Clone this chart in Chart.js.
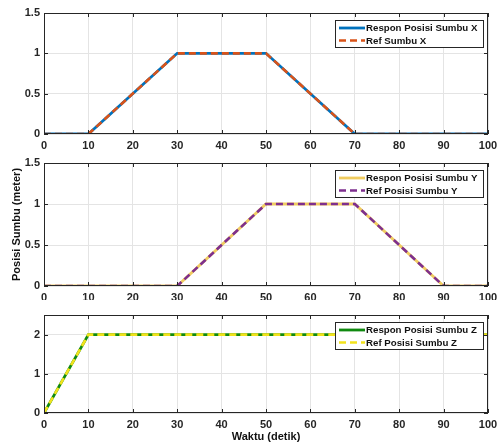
<!DOCTYPE html>
<html>
<head>
<meta charset="utf-8">
<script src="https://cdn.jsdelivr.net/npm/chart.js@4"></script>
<style>
    body { margin: 0; background: #fff; }
    .panel { position: absolute; left: 0; width: 498px; }
</style>
</head>
<body>
<div class="panel" style="top:0"><canvas id="chartX" width="498" height="150"></canvas></div>
<div class="panel" style="top:150px"><canvas id="chartY" width="498" height="150"></canvas></div>
<div class="panel" style="top:300px"><canvas id="chartZ" width="498" height="148"></canvas></div>
<script>
// data
const timeX = [0, 10, 30, 50, 70, 100];
const responX = [0, 0, 1, 1, 0, 0];
const refX = [0, 0, 1, 1, 0, 0];

const timeY = [0, 30, 50, 70, 90, 100];
const responY = [0, 0, 1, 1, 0, 0];
const refY = [0, 0, 1, 1, 0, 0];

const timeZ = [0, 10, 100];
const responZ = [0, 2, 2];
const refZ = [0, 2, 2];

const labelsX = ['Respon Posisi Sumbu X', 'Ref Sumbu X'];
const labelsY = ['Respon Posisi Sumbu Y', 'Ref Posisi Sumbu Y'];
const labelsZ = ['Respon Posisi Sumbu Z', 'Ref Posisi Sumbu Z'];

const xTicks = [0, 10, 20, 30, 40, 50, 60, 70, 80, 90, 100];
const yTicksXY = [0, 0.5, 1, 1.5];
const yTicksZ = [0, 1, 2];

const yLabel = 'Posisi Sumbu (meter)';
const xLabel = 'Waktu (detik)';

const axisColor = '#262626';
const fontFamily = "'Liberation Sans', Arial, sans-serif";

function toPoints(t, v) {
    return t.map((x, i) => ({ x: x, y: v[i] }));
}

// kotak sumbu + tick ke dalam (gaya MATLAB)
const boxPlugin = {
    id: 'box',
    afterDatasetsDraw(chart) {
        const { ctx, chartArea: a, scales } = chart;
        ctx.save();
        ctx.strokeStyle = axisColor;
        ctx.lineWidth = 1;
        ctx.strokeRect(a.left + 0.5, a.top + 0.5, a.right - a.left - 1, a.bottom - a.top - 1);
        ctx.beginPath();
        scales.x.ticks.forEach(t => {
            const px = Math.round(scales.x.getPixelForValue(t.value)) + 0.5;
            ctx.moveTo(px, a.bottom); ctx.lineTo(px, a.bottom - 4);
            ctx.moveTo(px, a.top); ctx.lineTo(px, a.top + 4);
        });
        scales.y.ticks.forEach(t => {
            const py = Math.round(scales.y.getPixelForValue(t.value)) + 0.5;
            ctx.moveTo(a.left, py); ctx.lineTo(a.left + 4, py);
            ctx.moveTo(a.right, py); ctx.lineTo(a.right - 4, py);
        });
        ctx.stroke();
        ctx.restore();
    }
};

// legenda di dalam area plot, kanan atas
const legendPlugin = {
    id: 'boxLegend',
    afterDraw(chart, args, opts) {
        const { ctx, chartArea: a } = chart;
        const sets = chart.data.datasets;
        ctx.save();
        ctx.font = 'bold 9.7px ' + fontFamily;
        let tw = 0;
        sets.forEach(d => { tw = Math.max(tw, ctx.measureText(d.label).width); });
        const w = Math.round(31 + tw + 6);
        const h = 27;
        const x0 = Math.round(a.left + opts.left);
        const y0 = Math.round(a.top + opts.top);
        ctx.fillStyle = '#fff';
        ctx.fillRect(x0, y0, w, h);
        ctx.strokeStyle = axisColor;
        ctx.lineWidth = 1;
        ctx.strokeRect(x0 + 0.5, y0 + 0.5, w, h);
        sets.forEach((d, i) => {
            const y = y0 + 8 + i * 12.5;
            ctx.beginPath();
            ctx.setLineDash(d.borderDash || []);
            ctx.strokeStyle = d.borderColor;
            ctx.lineWidth = d.borderWidth;
            ctx.moveTo(x0 + 4, y);
            ctx.lineTo(x0 + 30, y);
            ctx.stroke();
            ctx.setLineDash([]);
            ctx.fillStyle = '#111';
            ctx.textBaseline = 'middle';
            ctx.fillText(d.label, x0 + 31, y + 0.5);
        });
        ctx.restore();
    }
};

function makeChart(id, t, respon, ref, labels, colors, yMax, yTicks, opt) {
    return new Chart(document.getElementById(id), {
        type: 'line',
        data: {
            datasets: [{
                label: labels[0],
                data: toPoints(t, respon),
                borderColor: colors[0],
                borderWidth: 2.8,
                pointRadius: 0,
                order: 2
            }, {
                label: labels[1],
                data: toPoints(t, ref),
                borderColor: colors[1],
                borderWidth: 2.6,
                borderDash: [7, 4],
                pointRadius: 0,
                order: 1
            }]
        },
        options: {
            responsive: false,
            animation: false,
            layout: { padding: { top: opt.padTop, right: 10, left: 0, bottom: 0 } },
            plugins: {
                legend: { display: false },
                tooltip: { enabled: false },
                boxLegend: { left: 291, top: 7 }
            },
            scales: {
                x: {
                    type: 'linear',
                    min: 0,
                    max: 100,
                    afterBuildTicks: s => { s.ticks = xTicks.map(v => ({ value: v })); },
                    afterFit: s => { s.height = opt.xHeight; s.paddingLeft = 0; s.paddingRight = 0; },
                    grid: { color: '#e4e4e4', drawTicks: false },
                    border: { display: false },
                    ticks: {
                        padding: 5,
                        color: axisColor,
                        maxRotation: 0,
                        callback: v => String(v),
                        font: { family: fontFamily, size: 11, weight: 'bold' }
                    },
                    title: {
                        display: !!opt.xTitle,
                        text: opt.xTitle || '',
                        color: '#111',
                        padding: { top: 0, bottom: 4 },
                        font: { family: fontFamily, size: 11, weight: 'bold' }
                    }
                },
                y: {
                    min: 0,
                    max: yMax,
                    afterBuildTicks: s => { s.ticks = yTicks.map(v => ({ value: v })); },
                    afterFit: s => { s.width = 44; s.paddingTop = 0; s.paddingBottom = 0; },
                    grid: { color: '#e4e4e4', drawTicks: false },
                    border: { display: false },
                    ticks: {
                        padding: 4,
                        color: axisColor,
                        callback: v => String(v),
                        font: { family: fontFamily, size: 11, weight: 'bold' }
                    },
                    title: {
                        display: !!opt.yTitle,
                        text: opt.yTitle || '',
                        color: '#111',
                        padding: { top: 10, bottom: 0 },
                        font: { family: fontFamily, size: 11, weight: 'bold' }
                    }
                }
            }
        },
        plugins: [boxPlugin, legendPlugin]
    });
}

makeChart('chartX', timeX, responX, refX, labelsX, ['#0072BD', '#D95319'], 1.5, yTicksXY,
    { padTop: 13, xHeight: 16 });
makeChart('chartY', timeY, responY, refY, labelsY, ['#F0CC60', '#7E2F8E'], 1.5, yTicksXY,
    { padTop: 13, xHeight: 14, yTitle: yLabel });
makeChart('chartZ', timeZ, responZ, refZ, labelsZ, ['#108A10', '#F2E21C'], 2.5, yTicksZ,
    { padTop: 15, xHeight: 35, xTitle: xLabel });
</script>
</body>
</html>
